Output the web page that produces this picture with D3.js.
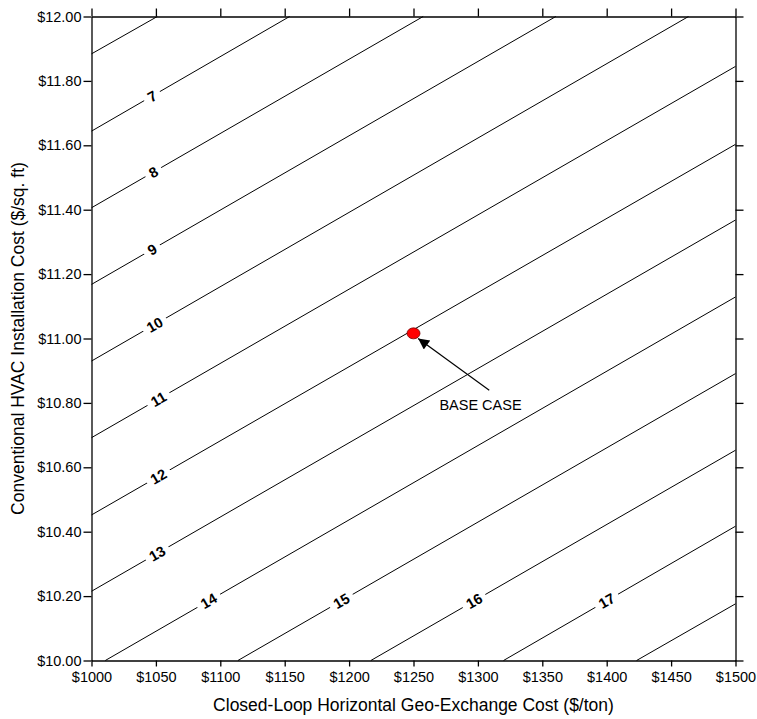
<!DOCTYPE html>
<html>
<head>
<meta charset="utf-8">
<script src="https://cdn.jsdelivr.net/npm/d3@7"></script>
<style>
body { margin: 0; background: #fff; }
svg text { font-family: Arial, "Liberation Sans", sans-serif; }
</style>
</head>
<body>
<div class="content"></div>
<script>
// contour levels (payback years) and where each line meets the plot border
var levels     = [6, 7, 8, 9, 10, 11, 12, 13, 14, 15, 16, 17, 18];
var lineStartX = [1000, 1000, 1000, 1000, 1000, 1000, 1000, 1000, 1010.7, 1113.7, 1216.9, 1319.9, 1423.2];
var lineStartY = [11.884, 11.644, 11.406, 11.168, 10.93, 10.692, 10.452, 10.215, 10, 10, 10, 10, 10];
var lineEndX   = [1051.1, 1153.8, 1257.5, 1360.5, 1463.5, 1500, 1500, 1500, 1500, 1500, 1500, 1500, 1500];
var lineEndY   = [12, 12, 12, 12, 12, 11.845, 11.603, 11.368, 11.129, 10.891, 10.653, 10.417, 10.176];

// inline labels: which level and at what x
var labelLevels = [7, 8, 9, 10, 11, 12, 13, 14, 15, 16, 17];
var labelX      = [1047, 1048, 1047, 1049, 1052, 1052, 1051, 1091, 1194, 1297, 1400];

var xTickValues = [1000, 1050, 1100, 1150, 1200, 1250, 1300, 1350, 1400, 1450, 1500];
var yTickValues = [10.0, 10.2, 10.4, 10.6, 10.8, 11.0, 11.2, 11.4, 11.6, 11.8, 12.0];

var baseCase = [1250, 11.016];
var arrowTail = [1308.8, 10.839];
var arrowTip = [1253.6, 11.0];
var baseLabel = "BASE CASE";

function draw() {
var width = 757, height = 719;
var pLeft = 91.5, pRight = 735.5, pTop = 16.5, pBottom = 660.5;

var svg = d3.select(".content").append("svg").attr("width", width).attr("height", height);

var x = d3.scaleLinear().domain([1000, 1500]).range([pLeft, pRight]);
var y = d3.scaleLinear().domain([10, 12]).range([pBottom, pTop]);

// contour lines
var lines = levels.map(function(l, i) {
	return { level: l, pts: [[lineStartX[i], lineStartY[i]], [lineEndX[i], lineEndY[i]]] };
});
var line = d3.line().x(function(d){ return x(d[0]); }).y(function(d){ return y(d[1]); });
svg.append("g").selectAll("path").data(lines).enter().append("path")
	.attr("d", function(d){ return line(d.pts); })
	.attr("stroke", "#000").attr("stroke-width", 1).attr("fill", "none");

// labels on the lines
var lab = svg.append("g");
labelLevels.forEach(function(l, k) {
	var i = levels.indexOf(l);
	var t = (labelX[k] - lineStartX[i]) / (lineEndX[i] - lineStartX[i]);
	var ly = lineStartY[i] + t * (lineEndY[i] - lineStartY[i]);
	var px = x(labelX[k]), py = y(ly);
	var ang = Math.atan2(y(lineEndY[i]) - y(lineStartY[i]), x(lineEndX[i]) - x(lineStartX[i])) * 180 / Math.PI;
	var g = lab.append("g").attr("transform", "translate(" + px + "," + py + ") rotate(" + ang + ")");
	var r = g.append("rect").attr("fill", "#fff");
	var txt = g.append("text").attr("text-anchor", "middle").attr("dy", "0.36em")
		.attr("font-size", "14.5px").attr("font-weight", "bold").text(l);
	var w = txt.node().getComputedTextLength();
	r.attr("x", -w / 2 - 5).attr("y", -6).attr("width", w + 10).attr("height", 12);
});

// axes
var fmtY = function(d){ return "$" + d3.format(".2f")(d); };
var fmtX = function(d){ return "$" + d; };
var gx = svg.append("g").attr("transform", "translate(0," + pBottom + ")")
	.call(d3.axisBottom(x).tickValues(xTickValues).tickFormat(fmtX).tickSize(6).tickSizeOuter(0).tickPadding(5));
var gy = svg.append("g").attr("transform", "translate(" + pLeft + ",0)")
	.call(d3.axisLeft(y).tickValues(yTickValues).tickFormat(fmtY).tickSize(8).tickSizeOuter(0).tickPadding(2));
var gt = svg.append("g").attr("transform", "translate(0," + pTop + ")")
	.call(d3.axisTop(x).tickValues(xTickValues).tickFormat("").tickSize(8).tickSizeOuter(0));
var gr = svg.append("g").attr("transform", "translate(" + pRight + ",0)")
	.call(d3.axisRight(y).tickValues(yTickValues).tickFormat("").tickSize(8).tickSizeOuter(0));
[gx, gy, gt, gr].forEach(function(g) {
	g.selectAll("path, line").attr("stroke", "#000").attr("stroke-width", 1.3);
	g.selectAll("text").attr("font-size", "14.5px").attr("fill", "#000")
		.attr("font-family", "Arial, 'Liberation Sans', sans-serif");
});

// axis titles
svg.append("text").attr("x", (pLeft + pRight) / 2).attr("y", 711)
	.attr("text-anchor", "middle").attr("font-size", "17.5px")
	.text("Closed-Loop Horizontal Geo-Exchange Cost ($/ton)");
svg.append("text").attr("transform", "translate(24," + ((pTop + pBottom) / 2) + ") rotate(-90)")
	.attr("text-anchor", "middle").attr("font-size", "17.5px")
	.text("Conventional HVAC Installation Cost ($/sq. ft)");

// base case marker and arrow
svg.append("defs").append("marker").attr("id", "arr")
	.attr("viewBox", "0 0 10 10").attr("refX", 10).attr("refY", 5)
	.attr("markerWidth", 13).attr("markerHeight", 11).attr("markerUnits", "userSpaceOnUse")
	.attr("orient", "auto")
	.append("path").attr("d", "M0,0L10,5L0,10Z").attr("fill", "#000");
svg.append("line")
	.attr("x1", x(arrowTail[0])).attr("y1", y(arrowTail[1]))
	.attr("x2", x(arrowTip[0])).attr("y2", y(arrowTip[1]))
	.attr("stroke", "#000").attr("stroke-width", 1.2).attr("marker-end", "url(#arr)");
svg.append("ellipse").attr("cx", x(baseCase[0])).attr("cy", y(baseCase[1]))
	.attr("rx", 6.5).attr("ry", 5.5).attr("fill", "#ff0000").attr("stroke", "#700").attr("stroke-width", 0.8);
svg.append("text").attr("x", 480.5).attr("y", 410).attr("text-anchor", "middle")
	.attr("font-size", "14.5px").text(baseLabel);
}
draw();
</script>
</body>
</html>
